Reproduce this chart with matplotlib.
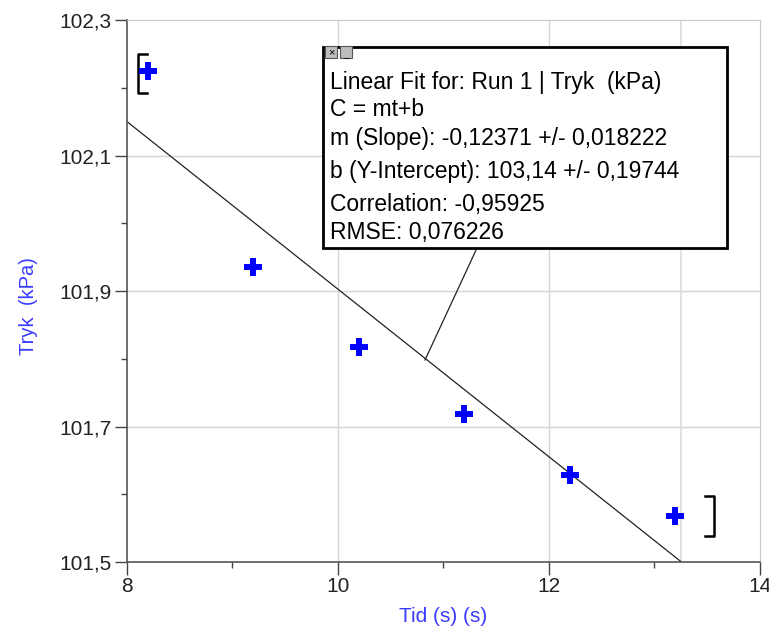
import matplotlib
matplotlib.use("Agg")
import matplotlib.pyplot as plt
from matplotlib.ticker import MultipleLocator, FixedLocator, FuncFormatter
import numpy as np

plt.rcParams['font.family'] = ['Liberation Sans', 'DejaVu Sans']

# data
tid = [8.2, 9.2, 10.2, 11.2, 12.2, 13.2]
tryk = [102.225, 101.935, 101.817, 101.718, 101.628, 101.568]

y_major = [101.5, 101.7, 101.9, 102.1, 102.3]
y_minor = [101.6, 101.8, 102.0, 102.2]

# linear fit shown in the box
slope = -0.12371
intercept = 103.14
fit_text = ["Linear Fit for: Run 1 | Tryk  (kPa)",
            "C = mt+b",
            "m (Slope): -0,12371 +/- 0,018222",
            "b (Y-Intercept): 103,14 +/- 0,19744",
            "Correlation: -0,95925",
            "RMSE: 0,076226"]

fig = plt.figure(figsize=(7.69, 6.30), dpi=100)
ax = fig.add_axes([0.165, 0.108, 0.823, 0.860])

ax.set_xlim(8, 14)
ax.set_ylim(101.5, 102.3)

# grid
for gx in [10, 12]:
    ax.axvline(gx, color='#d4d4d4', lw=1, zorder=0)
for gy in y_major[1:-1]:
    ax.axhline(gy, color='#d4d4d4', lw=1, zorder=0)
ax.axvline(13.25, color='#dcdcdc', lw=1.2, zorder=0)

# fit line, clipped to the axes
t_end = (101.5 - intercept) / slope
tt = np.array([8, t_end])
ax.plot(tt, slope * tt + intercept, color='#222222', lw=0.9, zorder=2)

# data
ax.scatter(tid, tryk, marker='+', s=180, linewidths=4.3, color='#0000ff', zorder=3)

# fit range brackets
bx0, bx1 = 8.105, 8.195
ax.plot([bx1, bx0, bx0, bx1], [102.25, 102.25, 102.192, 102.192], color='black', lw=1.8)
rx0, rx1 = 13.48, 13.57
ax.plot([rx0, rx1, rx1, rx0], [101.597, 101.597, 101.538, 101.538], color='black', lw=1.8)

# ticks
ax.xaxis.set_major_locator(MultipleLocator(2))
ax.xaxis.set_minor_locator(MultipleLocator(1))
ax.yaxis.set_major_locator(FixedLocator(y_major))
ax.yaxis.set_minor_locator(FixedLocator(y_minor))
ax.yaxis.set_major_formatter(FuncFormatter(lambda v, p: f"{v:.1f}".replace('.', ',')))
ax.tick_params(which='major', direction='out', length=9, width=1, color='#444444',
               labelsize=15, labelcolor='#222222', pad=2)
ax.tick_params(which='minor', direction='out', length=4, width=1, color='#444444')

for s in ['top', 'right']:
    ax.spines[s].set_color('#c8c8c8')
for s in ['left', 'bottom']:
    ax.spines[s].set_color('#555555')
    ax.spines[s].set_linewidth(1.2)

ax.set_xlabel("Tid (s) (s)", color='#3b3bff', fontsize=15, labelpad=8)
ax.set_ylabel("Tryk  (kPa)", color='#3b3bff', fontsize=14.5)
ax.yaxis.set_label_coords(-0.1405, 0.472)

# annotation box (figure pixels)
W, H = 769, 630
def fx(px): return px / W
def fy(py): return 1 - py / H

box = plt.Rectangle((fx(323), fy(248)), fx(727) - fx(323), fy(47) - fy(248),
                    transform=fig.transFigure, facecolor='white', edgecolor='black',
                    lw=2, zorder=5)
fig.patches.append(box)
# little window buttons
for bx in [325, 340]:
    fig.patches.append(plt.Rectangle((fx(bx), fy(58)), fx(12), 12 / H,
                                     transform=fig.transFigure, facecolor='#bdbdbd',
                                     edgecolor='#555555', lw=0.8, zorder=6))
fig.text(fx(331), fy(52), "×", fontsize=8, ha='center', va='center', zorder=7)
fig.text(fx(346), fy(54), "_", fontsize=7, ha='center', va='center', zorder=7)

ys = [83, 109, 138, 172, 204, 232]
for line, py in zip(fit_text, ys):
    fig.text(fx(330), fy(py), line, fontsize=16.5, ha='left', va='center',
             color='black', zorder=7)

# leader line from box to fit line
fig.add_artist(plt.Line2D([fx(477), fx(425)], [fy(248), fy(360)],
                          transform=fig.transFigure, color='#222222', lw=0.9))

fig.savefig("out.png", dpi=100)
